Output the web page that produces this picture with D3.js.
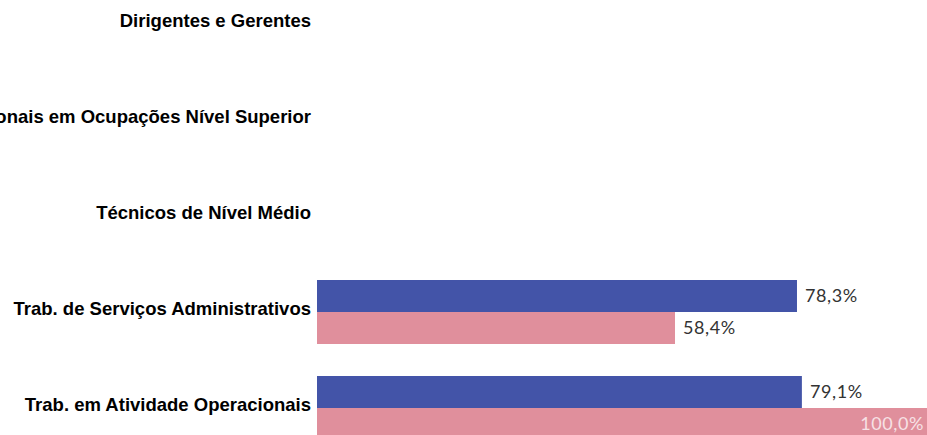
<!DOCTYPE html>
<html>
<head>
<meta charset="utf-8">
<script src="https://cdn.jsdelivr.net/npm/d3@7"></script>
<style>
	body { margin: 0; background: #fff; }
	svg { display: block; }
</style>
</head>
<body>
<svg id="chart"></svg>
<script>
var categories = [
	"Dirigentes e Gerentes",
	"Profissionais em Ocupações Nível Superior",
	"Técnicos de Nível Médio",
	"Trab. de Serviços Administrativos",
	"Trab. em Atividade Operacionais"
];
var seriesNames = ["serie1", "serie2"];
var serie1 = [null, null, null, 78.3, 79.1];
var serie2 = [null, null, null, 58.4, 100.0];
var colors = ["#4354a8", "#e08f9c"];

var width = 927, height = 435;

var svg = d3.select("#chart")
	.attr("width", width)
	.attr("height", height);

// bars start right after the category labels
var x = d3.scaleLinear().domain([0, 100]).range([317, 930]);

var y = d3.scaleBand()
	.domain(categories)
	.range([-24, 456])
	.paddingInner(1 / 3)
	.paddingOuter(1 / 6);

var ySub = d3.scaleBand()
	.domain(seriesNames)
	.range([0, y.bandwidth()]);

var rows = categories.map(function(c, i) {
	return { cat: c, values: [
		{ key: "serie1", value: serie1[i], color: colors[0] },
		{ key: "serie2", value: serie2[i], color: colors[1] }
	]};
});

// category labels (the long one runs off the left edge, like the original)
svg.append("g").selectAll("text")
	.data(categories)
	.enter().append("text")
	.attr("x", 311)
	.attr("y", function(d) { return y(d) + y.bandwidth() / 2; })
	.attr("dy", "0.15em")
	.attr("text-anchor", "end")
	.style("font-family", "'Liberation Sans', Arial, sans-serif")
	.style("font-weight", "bold")
	.style("font-size", "18.5px")
	.style("fill", "#000")
	.text(function(d) { return d; });

var group = svg.append("g").selectAll(".row")
	.data(rows)
	.enter().append("g")
	.attr("class", "row")
	.attr("transform", function(d) { return "translate(0," + y(d.cat) + ")"; });

var bars = group.selectAll(".bar")
	.data(function(d) { return d.values.filter(function(v) { return v.value != null; }); })
	.enter();

bars.append("rect")
	.attr("class", "bar")
	.attr("x", x(0))
	.attr("y", function(d) { return ySub(d.key); })
	.attr("width", function(d) { return x(d.value) - x(0); })
	.attr("height", ySub.bandwidth())
	.style("fill", function(d) { return d.color; });

bars.append("text")
	.attr("x", function(d) {
		return x(d.value) > width - 60 ? width - 3 : x(d.value) + 8;
	})
	.attr("y", function(d) { return ySub(d.key) + ySub.bandwidth() / 2; })
	.attr("dy", "0.35em")
	.attr("text-anchor", function(d) { return x(d.value) > width - 60 ? "end" : "start"; })
	.style("font-family", "Lato, 'Open Sans', sans-serif")
	.style("font-size", "18px")
	.style("letter-spacing", "0.6px")
	.style("fill", function(d) { return x(d.value) > width - 60 ? "#f7e1e5" : "#333"; })
	.text(function(d) { return d3.format(".1f")(d.value).replace(".", ",") + "%"; });
</script>
</body>
</html>
